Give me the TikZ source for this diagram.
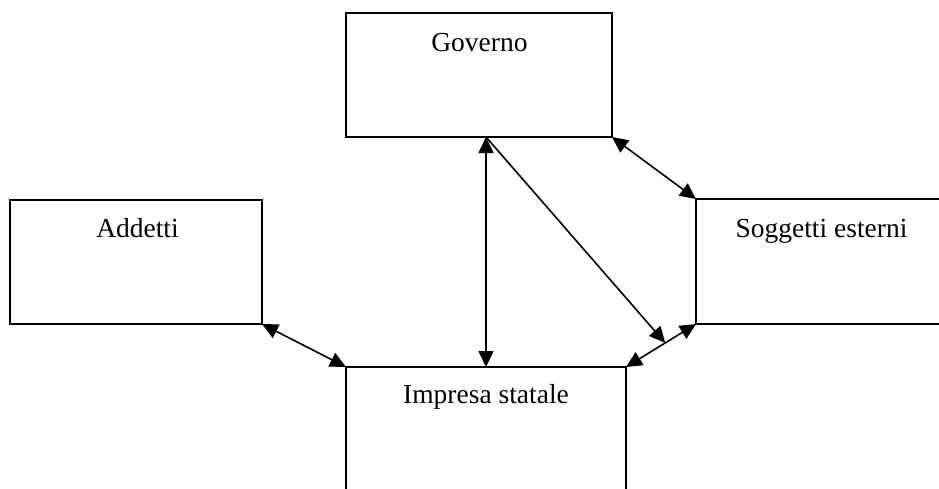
\documentclass[tikz,border=0pt]{standalone}
\usepackage{fontspec}
\setmainfont{Liberation Serif}
\usetikzlibrary{arrows.meta,calc}

\tikzset{
  boxframe/.style={draw=black, line width=1.8pt, rectangle, inner sep=0pt, outer sep=0pt},
  openframe/.style={draw=none, rectangle, inner sep=0pt, outer sep=0pt},
  boxtext/.style={anchor=base, inner sep=0pt, font=\fontsize{27.5}{33}\selectfont},
  tip/.style={Triangle[length=16pt,width=15pt]},
  link/.style={line width=1.6pt, {Triangle[length=16pt,width=15pt]}-{Triangle[length=16pt,width=15pt]}},
  onelink/.style={line width=1.6pt, -{Triangle[length=16pt,width=15pt]}},
  edge/.style={line width=1.8pt, line cap=rect}
}

\begin{document}
\begin{tikzpicture}[x=1pt, y=-1pt]
  \useasboundingbox (0,0) rectangle (939,488);

  % boxes
  \node[boxframe, minimum width=266pt, minimum height=124pt] (gov) at (479,75) {};
  \node[boxframe, minimum width=252pt, minimum height=124pt] (add) at (136,262) {};
  \node[openframe, minimum width=243pt, minimum height=125pt] (sog) at (817.5,261.5) {};
  \node[openframe, minimum width=280pt, minimum height=121pt] (imp) at (486,427.5) {};

  % open frames run past the page edge
  \draw[edge] (sog.north east) -- (sog.north west) -- (sog.south west) -- (sog.south east);
  \draw[edge] (imp.south west) -- (imp.north west) -- (imp.north east) -- (imp.south east);

  % labels
  \node[boxtext] (gov-t) at (479.5,51) {Governo};
  \node[boxtext] (add-t) at (137.5,237) {Addetti};
  \node[boxtext] (sog-t) at (821.5,237) {Soggetti esterni};
  \node[boxtext] (imp-t) at (486,403) {Impresa statale};

  % connectors
  \coordinate (govbot) at (486,137);
  \coordinate (impbot) at (486,367);
  \coordinate (meet) at ($(sog.south west)!0.44!(imp.north east)$);

  \draw[link] (govbot) -- (impbot);
  \draw[onelink] (govbot) -- (meet);
  \draw[link] (gov.south east) -- (sog.north west);
  \draw[link] (add.south east) -- (imp.north west);
  \draw[link] (sog.south west) -- (imp.north east);
\end{tikzpicture}
\end{document}
